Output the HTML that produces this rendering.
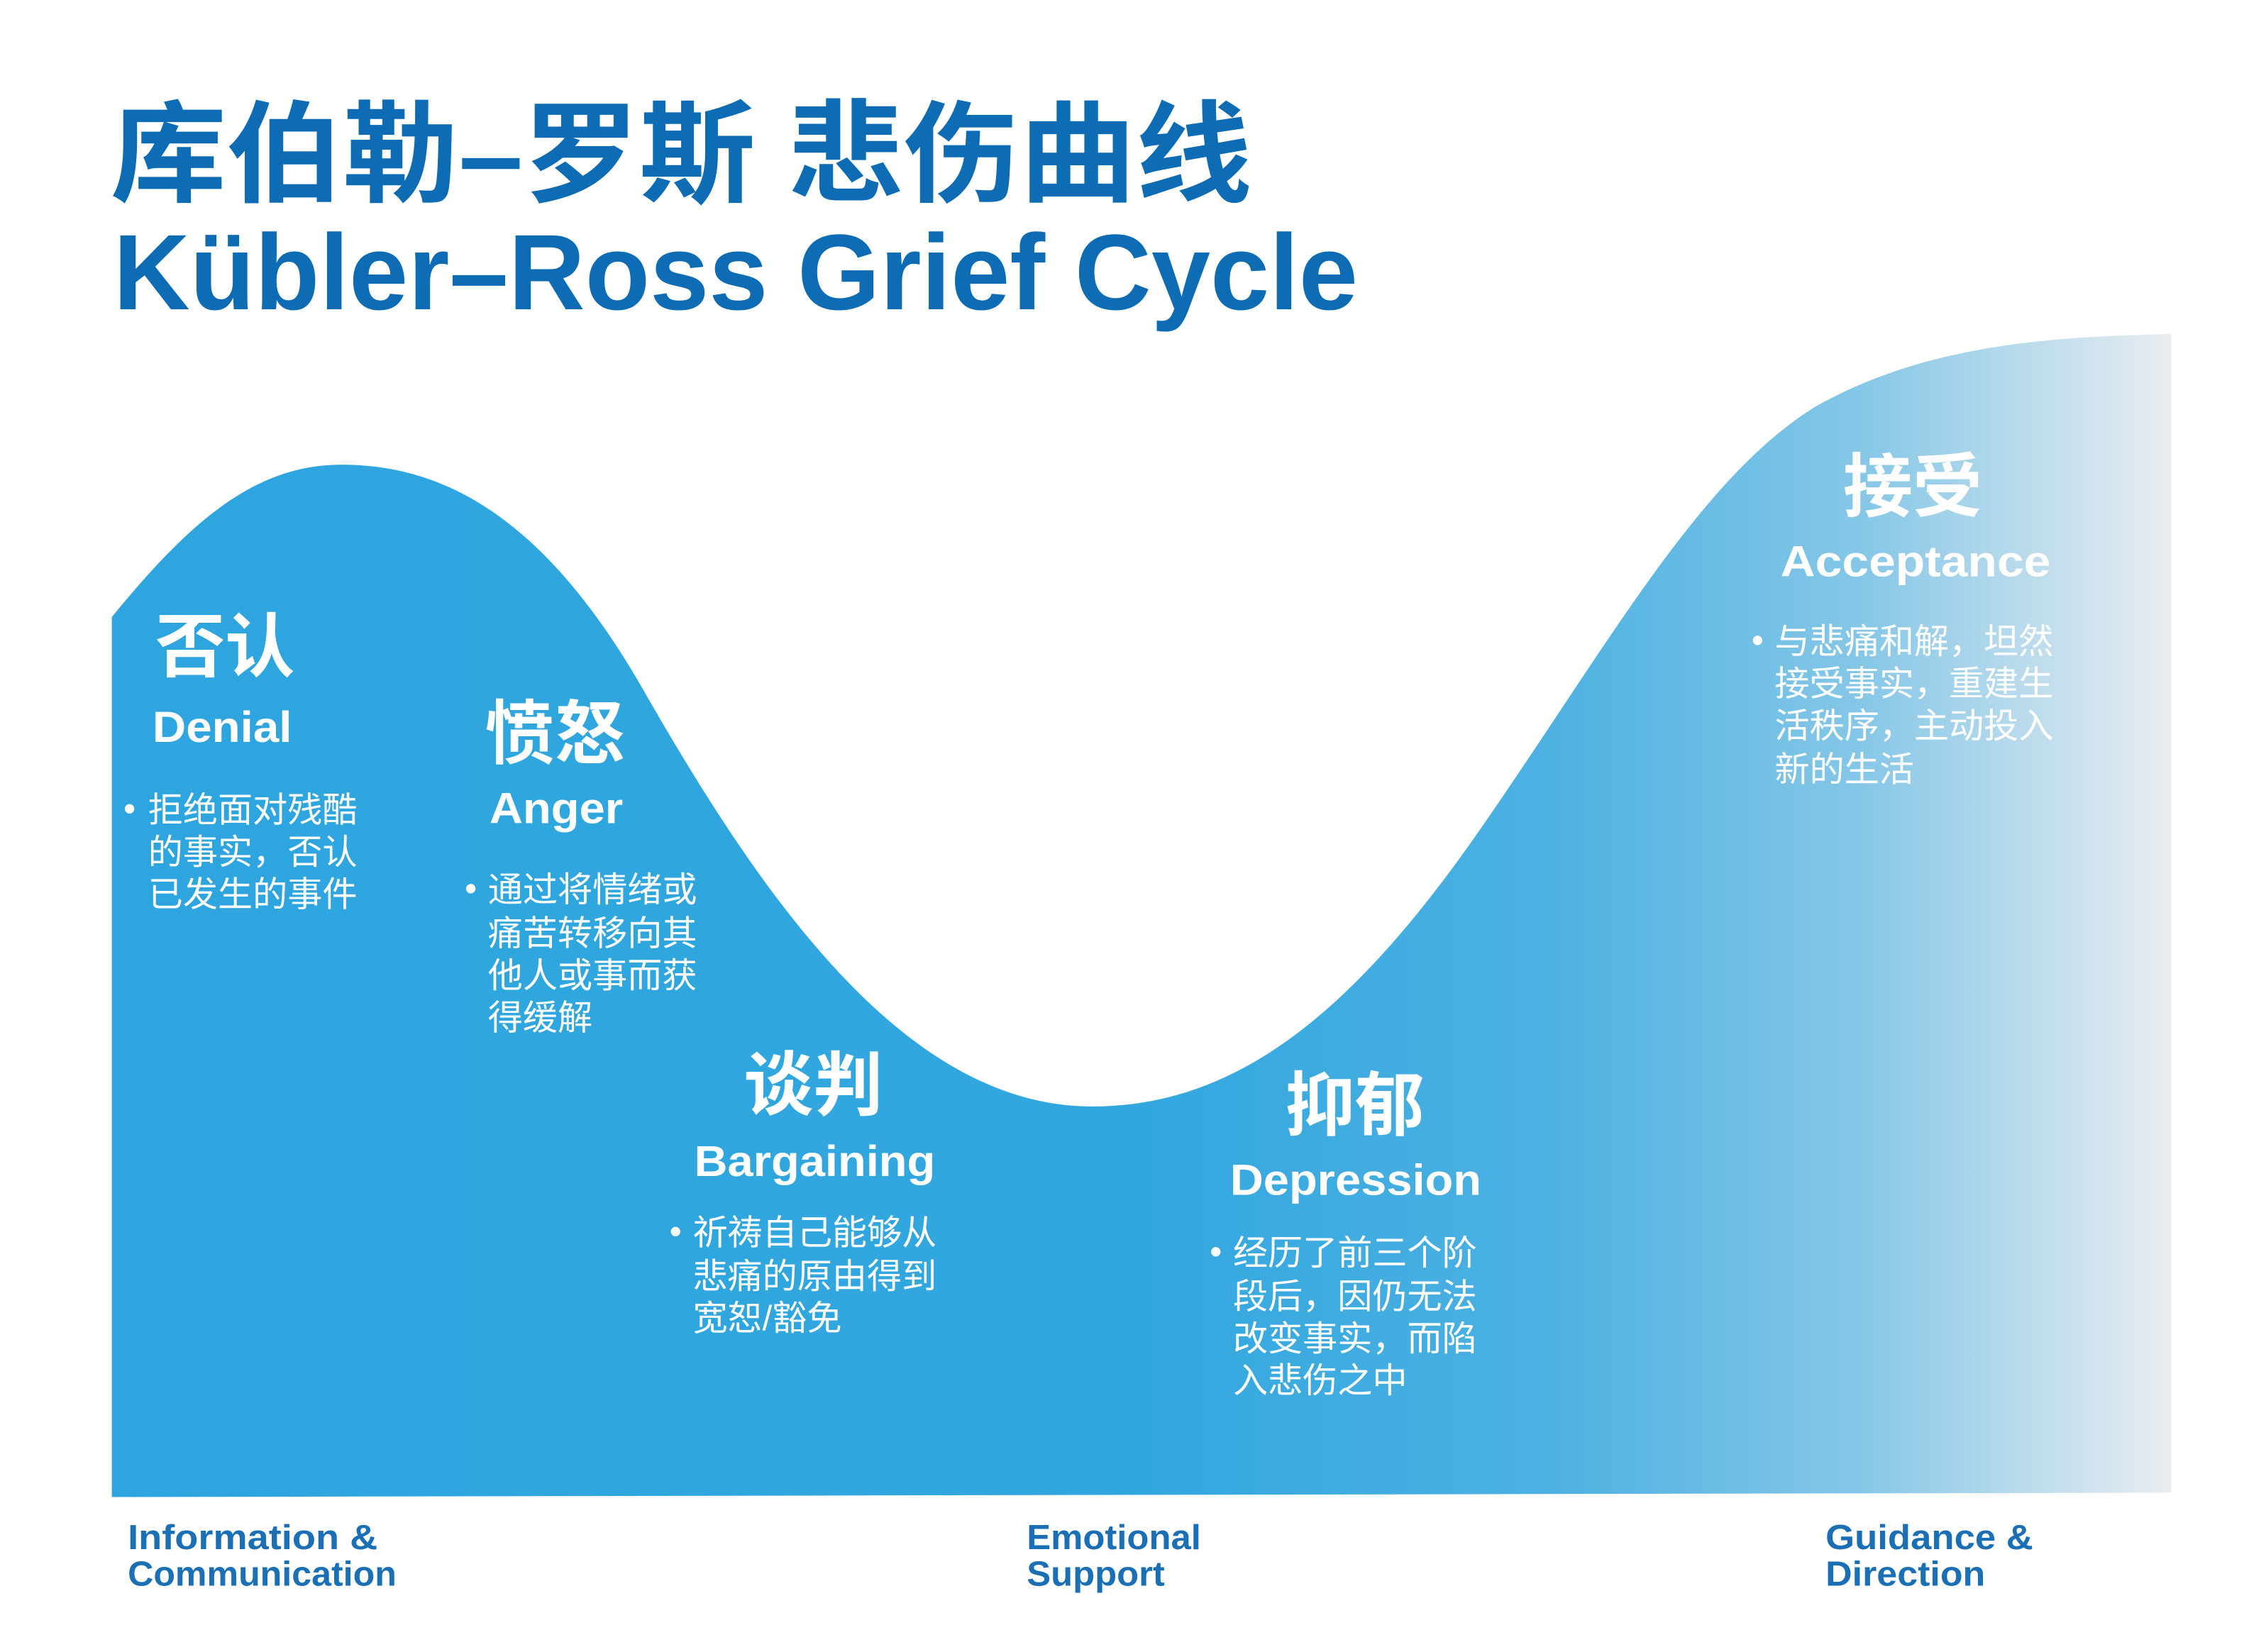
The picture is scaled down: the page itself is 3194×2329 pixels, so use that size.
<!DOCTYPE html>
<html><head><meta charset="utf-8"><style>
html,body{margin:0;padding:0;background:#fff;width:3194px;height:2329px;overflow:hidden}
svg{display:block}
text{font-family:"Liberation Sans","Noto Sans CJK SC",sans-serif}
</style></head><body>
<svg width="3194" height="2329" viewBox="0 0 1560.3 1137.7" xmlns="http://www.w3.org/2000/svg">
<defs>
<linearGradient id="g" x1="77" y1="0" x2="1495" y2="0" gradientUnits="userSpaceOnUse">
<stop offset="0" stop-color="#2ea5df"/>
<stop offset="0.5" stop-color="#32a7df"/>
<stop offset="0.7" stop-color="#4db1e2"/>
<stop offset="0.85" stop-color="#86c7e7"/>
<stop offset="1" stop-color="#e9edf1"/>
</linearGradient>
</defs>
<path d="M77,425 C130,360 175,320 235,320 C300,320 370,350 440,470 C520,610 620,762 752,762 C850,762 930,700 1020,570 C1110,440 1170,330 1250,280 C1330,235 1420,232 1495,230 L1495,1028 L77,1031 Z" fill="url(#g)"/>
<g fill="#0d6cb4" font-weight="bold">
<text x="76" y="133" font-size="76" textLength="786" lengthAdjust="spacingAndGlyphs">库伯勒–罗斯 悲伤曲线</text>
<text x="78" y="213" font-size="74" textLength="857" lengthAdjust="spacingAndGlyphs">Kübler–Ross  Grief  Cycle</text>
</g>
<g fill="#fff">
<g font-weight="bold" font-size="48">
<text x="107" y="462">否认</text>
<text x="334" y="522">愤怒</text>
<text x="512" y="764">谈判</text>
<text x="885" y="778">抑郁</text>
<text x="1269" y="352">接受</text>
</g>
<g font-size="30" font-weight="bold">
<text x="105" y="511" textLength="96" lengthAdjust="spacingAndGlyphs">Denial</text>
<text x="337" y="567" textLength="92" lengthAdjust="spacingAndGlyphs">Anger</text>
<text x="478" y="810" textLength="166" lengthAdjust="spacingAndGlyphs">Bargaining</text>
<text x="847" y="823" textLength="173" lengthAdjust="spacingAndGlyphs">Depression</text>
<text x="1226" y="397" textLength="186" lengthAdjust="spacingAndGlyphs">Acceptance</text>
</g>
<g font-size="24">
<text x="85" y="565">•</text>
<text x="102" y="566">拒绝面对残酷</text>
<text x="102" y="595">的事实，否认</text>
<text x="102" y="624">已发生的事件</text>

<text x="320" y="620">•</text>
<text x="336" y="621">通过将情绪或</text>
<text x="336" y="651">痛苦转移向其</text>
<text x="336" y="680">他人或事而获</text>
<text x="336" y="709">得缓解</text>

<text x="461" y="856">•</text>
<text x="477" y="857">祈祷自己能够从</text>
<text x="477" y="887">悲痛的原由得到</text>
<text x="477" y="916">宽恕/豁免</text>

<text x="833" y="870">•</text>
<text x="849" y="871">经历了前三个阶</text>
<text x="849" y="901">段后，因仍无法</text>
<text x="849" y="930">改变事实，而陷</text>
<text x="849" y="959">入悲伤之中</text>

<text x="1206" y="449">•</text>
<text x="1222" y="450">与悲痛和解，坦然</text>
<text x="1222" y="479">接受事实，重建生</text>
<text x="1222" y="508">活秩序，主动投入</text>
<text x="1222" y="538">新的生活</text>
</g>
</g>
<g fill="#1a6fb5" font-size="24" font-weight="bold">
<text x="88" y="1067" textLength="172" lengthAdjust="spacingAndGlyphs">Information  &amp;</text>
<text x="88" y="1092" textLength="185" lengthAdjust="spacingAndGlyphs">Communication</text>
<text x="707" y="1067" textLength="120" lengthAdjust="spacingAndGlyphs">Emotional</text>
<text x="707" y="1092" textLength="95" lengthAdjust="spacingAndGlyphs">Support</text>
<text x="1257" y="1067" textLength="143" lengthAdjust="spacingAndGlyphs">Guidance  &amp;</text>
<text x="1257" y="1092" textLength="110" lengthAdjust="spacingAndGlyphs">Direction</text>
</g>
</svg>
</body></html>
